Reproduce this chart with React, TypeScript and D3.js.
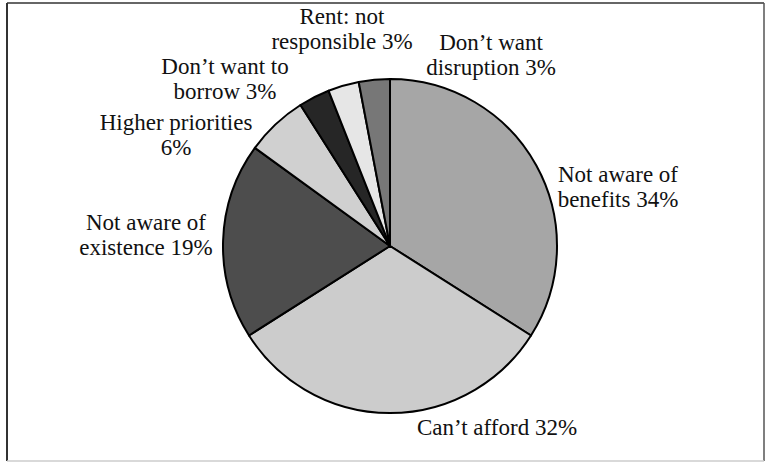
import React from "react";
import * as d3 from "d3";

const categories = [
  "Not aware of benefits",
  "Can’t afford",
  "Not aware of existence",
  "Higher priorities",
  "Don’t want to borrow",
  "Rent: not responsible",
  "Don’t want disruption",
];
const values = [34, 32, 19, 6, 3, 3, 3];
const labelLines = [
  ["Not aware of", "benefits 34%"],
  ["Can’t afford 32%"],
  ["Not aware of", "existence 19%"],
  ["Higher priorities", "6%"],
  ["Don’t want to", "borrow 3%"],
  ["Rent: not", "responsible 3%"],
  ["Don’t want", "disruption 3%"],
];
const fills = ["#a6a6a6", "#cccccc", "#4d4d4d", "#d0d0d0", "#262626", "#e6e6e6", "#777777"];
// layout: label centre x and first baseline y
const labelX = [618, 497, 146, 176, 225, 342, 491];
const labelY = [182, 435, 230, 130, 74, 24, 50];

const W = 765;
const H = 462;
const cx = 390;
const cy = 246;
const R = 167;

export default function App() {
  const data = categories.map((c, i) => ({ c, v: values[i], i }));
  const pie = d3.pie<any>().value((d) => d.v).sort(null).startAngle(0).endAngle(2 * Math.PI);
  const arcs = pie(data);
  const arcGen = d3.arc<any>().innerRadius(0).outerRadius(R);
  const font = '"Liberation Serif", "DejaVu Serif", serif';
  return (
    <svg width={W} height={H} style={{ position: "absolute", left: 0, top: 0, background: "#fff" }}>
      <line x1={7} y1={3} x2={764} y2={3} stroke="#333" strokeWidth={1.5} />
      <line x1={7} y1={3} x2={7} y2={461} stroke="#333" strokeWidth={2} />
      <line x1={764} y1={3} x2={764} y2={461} stroke="#555" strokeWidth={1.5} />
      <line x1={7} y1={461} x2={764} y2={461} stroke="#ccc" strokeWidth={1.5} />
      <g transform={`translate(${cx},${cy})`}>
        {arcs.map((a, i) => (
          <path key={i} d={arcGen(a) as string} fill={fills[i]} stroke="#000" strokeWidth={2} strokeLinejoin="round" />
        ))}
      </g>
      {labelLines.map((lines, i) => (
        <text key={i} x={labelX[i]} y={labelY[i]} textAnchor="middle" style={{ fontFamily: font, fontSize: "23px" }} fill="#111">
          {lines.map((l, j) => (
            <tspan key={j} x={labelX[i]} dy={j === 0 ? 0 : 25}>
              {l}
            </tspan>
          ))}
        </text>
      ))}
    </svg>
  );
}
